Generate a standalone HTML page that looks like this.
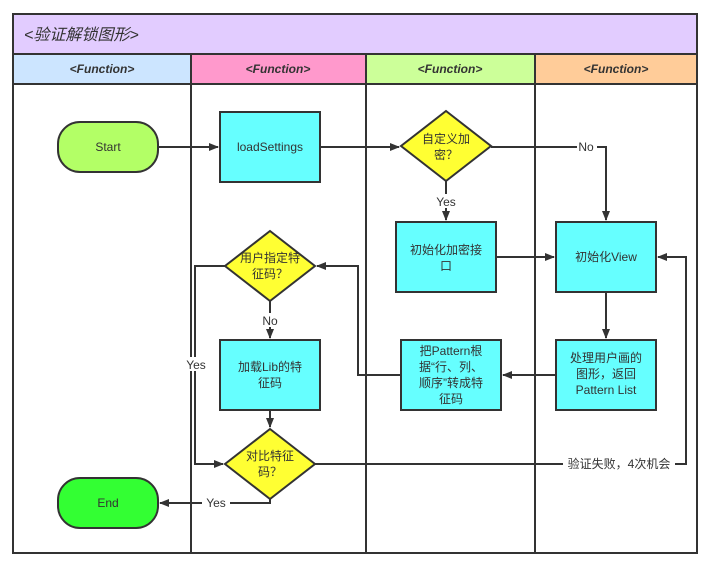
<!DOCTYPE html>
<html><head><meta charset="utf-8"><style>
html,body{margin:0;padding:0;background:#fff;}
svg text{font-family:"Liberation Sans","Noto Sans CJK SC",sans-serif;fill:#333;}
</style></head><body>
<svg width="714" height="581" viewBox="0 0 714 581" xmlns="http://www.w3.org/2000/svg">
<defs><marker id="a" markerWidth="10" markerHeight="8" refX="9" refY="4" orient="auto" markerUnits="userSpaceOnUse"><path d="M0,0 L10,4 L0,8 Z" fill="#333"/></marker></defs>
<rect x="13" y="14" width="684" height="539" fill="#fff" stroke="#333" stroke-width="2"/>
<rect x="13" y="14" width="684" height="40" fill="#e2ccff" stroke="#333" stroke-width="2"/>
<text x="24" y="40" font-size="16" font-style="italic">&lt;验证解锁图形&gt;</text>
<rect x="13" y="54" width="178" height="30" fill="#cce5ff" stroke="#333" stroke-width="2"/>
<rect x="191" y="54" width="175" height="30" fill="#ff99cc" stroke="#333" stroke-width="2"/>
<rect x="366" y="54" width="169" height="30" fill="#ccff99" stroke="#333" stroke-width="2"/>
<rect x="535" y="54" width="162" height="30" fill="#ffcc99" stroke="#333" stroke-width="2"/>
<g font-size="12" font-weight="bold" font-style="italic" text-anchor="middle">
<text x="102" y="73">&lt;Function&gt;</text><text x="278" y="73">&lt;Function&gt;</text><text x="450" y="73">&lt;Function&gt;</text><text x="616" y="73">&lt;Function&gt;</text></g>
<g stroke="#333" stroke-width="2"><line x1="191" y1="84" x2="191" y2="553"/><line x1="366" y1="84" x2="366" y2="553"/><line x1="535" y1="84" x2="535" y2="553"/></g>
<g fill="none" stroke="#333" stroke-width="2">
<path d="M158,147 H218" marker-end="url(#a)"/>
<path d="M320,147 H399" marker-end="url(#a)"/>
<path d="M491,147 H606 V220" marker-end="url(#a)"/>
<path d="M446,181 V220" marker-end="url(#a)"/>
<path d="M496,257 H554" marker-end="url(#a)"/>
<path d="M606,292 V338" marker-end="url(#a)"/>
<path d="M556,375 H503" marker-end="url(#a)"/>
<path d="M401,375 H358 V266 H317" marker-end="url(#a)"/>
<path d="M270,301 V338" marker-end="url(#a)"/>
<path d="M225,266 H195 V464 H223" marker-end="url(#a)"/>
<path d="M270,410 V427" marker-end="url(#a)"/>
<path d="M315,464 H686 V257 H658" marker-end="url(#a)"/>
<path d="M270,499 V503 H160" marker-end="url(#a)"/>
</g>
<rect x="58" y="122" width="100" height="50" rx="22" fill="#b3ff66" stroke="#333" stroke-width="2"/>
<rect x="58" y="478" width="100" height="50" rx="22" fill="#33ff33" stroke="#333" stroke-width="2"/>
<g fill="#66ffff" stroke="#333" stroke-width="2">
<rect x="220" y="112" width="100" height="70"/><rect x="396" y="222" width="100" height="70"/>
<rect x="556" y="222" width="100" height="70"/><rect x="556" y="340" width="100" height="70"/>
<rect x="401" y="340" width="100" height="70"/><rect x="220" y="340" width="100" height="70"/>
</g>
<g fill="#ffff33" stroke="#333" stroke-width="2">
<path d="M446,111 L491,146 L446,181 L401,146 Z"/>
<path d="M270,231 L315,266 L270,301 L225,266 Z"/>
<path d="M270,429 L315,464 L270,499 L225,464 Z"/>
</g>
<g font-size="12" text-anchor="middle">
<text x="108" y="151">Start</text><text x="108" y="507">End</text>
<text x="270" y="151">loadSettings</text>
<text x="446" y="143">自定义加</text><text x="446" y="159">密？</text>
<text x="446" y="254">初始化加密接</text><text x="446" y="270">口</text>
<text x="606" y="261">初始化View</text>
<text x="606" y="362">处理用户画的</text><text x="606" y="378">图形，返回</text><text x="606" y="394">Pattern List</text>
<text x="451" y="355">把Pattern根</text><text x="451" y="371">据“行、列、</text><text x="451" y="387">顺序”转成特</text><text x="451" y="403">征码</text>
<text x="270" y="262">用户指定特</text><text x="270" y="278">征码？</text>
<text x="270" y="371">加载Lib的特</text><text x="270" y="387">征码</text>
<text x="270" y="460">对比特征</text><text x="270" y="476">码？</text>
</g>
<g font-size="12" text-anchor="middle">
<rect x="577" y="140" width="20" height="14" fill="#fff"/><text x="586" y="151">No</text>
<rect x="432" y="194" width="28" height="14" fill="#fff"/><text x="446" y="206">Yes</text>
<rect x="259" y="313" width="22" height="14" fill="#fff"/><text x="270" y="325">No</text>
<rect x="182" y="357" width="28" height="14" fill="#fff"/><text x="196" y="369">Yes</text>
<rect x="202" y="496" width="28" height="14" fill="#fff"/><text x="216" y="507">Yes</text>
<rect x="563" y="457" width="112" height="14" fill="#fff"/><text x="619" y="468">验证失败，4次机会</text>
</g>
</svg>
</body></html>
